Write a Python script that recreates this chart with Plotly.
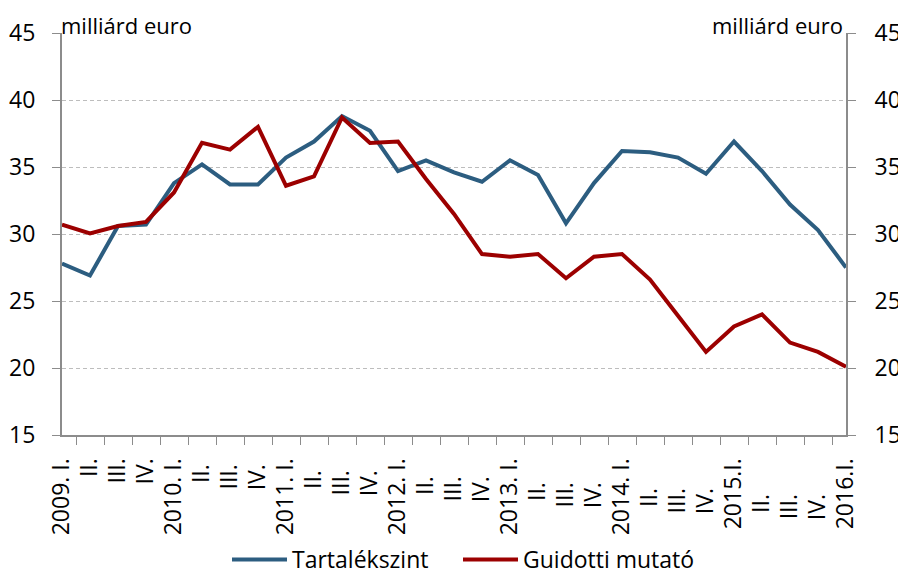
import plotly.graph_objects as go

categories = ["2009. I.", "II.", "III.", "IV.",
              "2010. I.", "II. ", "III. ", "IV. ",
              "2011. I.", "II.  ", "III.  ", "IV.  ",
              "2012. I.", "II.   ", "III.   ", "IV.   ",
              "2013. I.", "II.    ", "III.    ", "IV.    ",
              "2014. I.", "II.     ", "III.     ", "IV.     ",
              "2015.I.", "II.      ", "III.      ", "IV.      ",
              "2016.I."]

tartalekszint = [27.8, 26.9, 30.6, 30.7, 33.8, 35.2, 33.7, 33.7, 35.7, 36.9,
                 38.8, 37.7, 34.7, 35.5, 34.6, 33.9, 35.5, 34.4, 30.8, 33.8,
                 36.2, 36.1, 35.7, 34.5, 36.9, 34.7, 32.2, 30.3, 27.5]

guidotti = [30.7, 30.05, 30.6, 30.9, 33.1, 36.8, 36.3, 38.0, 33.6, 34.3,
            38.7, 36.8, 36.9, 34.1, 31.5, 28.5, 28.3, 28.5, 26.7, 28.3,
            28.5, 26.6, 23.9, 21.2, 23.1, 24.0, 21.9, 21.2, 20.1]

y_ticks = [15, 20, 25, 30, 35, 40, 45]
unit_label = "milliárd euro"

FONT = "Open Sans"
FS = 23
LFS = 23
AFS = 22
AXIS_COLOR = "#8C8C8C"
# the page body adds an 8px offset, so the figure is 8px smaller
OFF = 8
W, H = 906 - OFF, 581 - OFF

fig = go.Figure()
fig.add_trace(go.Scatter(x=categories, y=tartalekszint, name="Tartalékszint",
                         mode="lines", line=dict(color="#2C5D80", width=4),
                         legend="legend"))
fig.add_trace(go.Scatter(x=categories, y=guidotti, name="Guidotti mutató",
                         mode="lines", line=dict(color="#9C0000", width=4),
                         legend="legend2"))

leg_common = dict(orientation="h", xref="container", yref="container",
                  xanchor="left", yanchor="bottom", y=0.0,
                  font=dict(size=LFS), itemwidth=55, bgcolor="rgba(0,0,0,0)")

fig.update_layout(
    width=W, height=H,
    margin=dict(l=62 - OFF, r=906 - 846, t=33 - OFF, b=146),
    paper_bgcolor="white", plot_bgcolor="white",
    font=dict(family=FONT, size=FS, color="black"),
    showlegend=True,
    legend=dict(x=(233 - OFF - 6) / W, **leg_common),
    legend2=dict(x=(465 - OFF - 7) / W, **leg_common),
    xaxis=dict(type="category", tickangle=-90, ticks="outside", tickson="boundaries",
               ticklen=8, tickcolor=AXIS_COLOR, showline=True, linecolor=AXIS_COLOR,
               linewidth=2, showgrid=False, tickfont=dict(size=FS),
               ticklabelstandoff=12, automargin=False),
    yaxis=dict(range=[15, 45], tickvals=y_ticks, ticks="outside", ticklen=8,
               tickcolor=AXIS_COLOR, showline=True, linecolor=AXIS_COLOR, linewidth=2,
               showgrid=True, gridcolor="#BDBDBD", griddash="4px,3px", gridwidth=1.3,
               zeroline=False, tickfont=dict(size=FS), automargin=False,
               ticklabelstandoff=12),
    yaxis2=dict(range=[15, 45], tickvals=y_ticks, overlaying="y", side="right",
                ticks="outside", ticklen=8, tickcolor=AXIS_COLOR, showline=True,
                linecolor=AXIS_COLOR, linewidth=2, showgrid=False, zeroline=False,
                tickfont=dict(size=FS), matches="y", automargin=False,
                ticklabelstandoff=14),
    annotations=[
        dict(text=unit_label, xref="paper", yref="paper", x=0.0, y=1.0,
             xanchor="left", yanchor="bottom", showarrow=False, yshift=-8, xshift=-2,
             borderpad=0, font=dict(size=AFS)),
        dict(text=unit_label, xref="paper", yref="paper", x=1.0, y=1.0,
             xanchor="right", yanchor="bottom", showarrow=False, yshift=-8, xshift=-2,
             borderpad=0, font=dict(size=AFS)),
    ],
)
# invisible helper so the right axis renders
fig.add_trace(go.Scatter(x=categories[:1], y=[None], yaxis="y2", showlegend=False,
                         hoverinfo="skip", mode="lines"))

fig.write_html("out.html")
